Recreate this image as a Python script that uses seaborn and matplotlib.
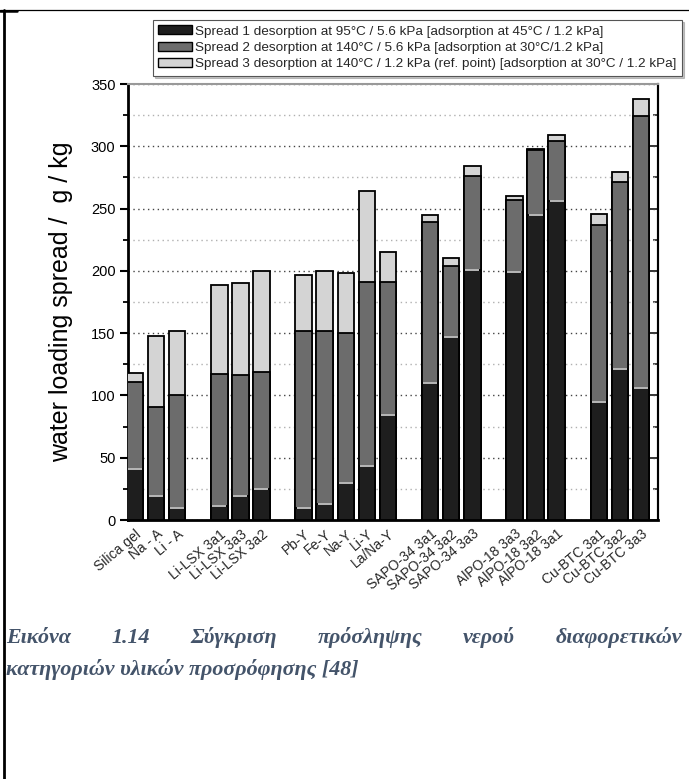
import matplotlib
matplotlib.use("Agg")
import numpy as np
import pandas as pd
import seaborn as sns
import matplotlib.pyplot as plt
from matplotlib.patches import Patch
from matplotlib.lines import Line2D
from matplotlib.ticker import MultipleLocator

# ---------------- data ----------------
categories = ["Silica gel", "Na - A", "Li - A",
              "Li-LSX 3a1", "Li-LSX 3a3", "Li-LSX 3a2",
              "Pb-Y", "Fe-Y", "Na-Y", "Li-Y", "La/Na-Y",
              "SAPO-34 3a1", "SAPO-34 3a2", "SAPO-34 3a3",
              "AlPO-18 3a3", "AlPO-18 3a2", "AlPO-18 3a1",
              "Cu-BTC 3a1", "Cu-BTC 3a2", "Cu-BTC 3a3"]
group_sizes = [3, 3, 5, 3, 3, 3]
spread1 = [41, 19, 10, 11, 19, 25, 10, 13, 30, 43, 84,
           110, 147, 201, 199, 245, 256, 95, 121, 106]
spread2 = [111, 91, 100, 117, 116, 119, 152, 152, 150, 191, 191,
           239, 204, 276, 257, 297, 304, 237, 271, 324]
spread3 = [118, 148, 152, 189, 190, 200, 197, 200, 198, 264, 215,
           245, 210, 284, 260, 298, 309, 246, 279, 338]
legend_labels = [
    "Spread 1 desorption at 95°C / 5.6 kPa [adsorption at 45°C / 1.2 kPa]",
    "Spread 2 desorption at 140°C / 5.6 kPa [adsorption at 30°C/1.2 kPa]",
    "Spread 3 desorption at 140°C / 1.2 kPa (ref. point) [adsorption at 30°C / 1.2 kPa]",
]
y_ticks = [0, 50, 100, 150, 200, 250, 300, 350]
y_label = "water loading spread /  g / kg"
caption_line1 = "Εικόνα 1.14 Σύγκριση πρόσληψης νερού διαφορετικών"
caption_line2 = "κατηγοριών υλικών προσρόφησης [48]"

# ---------------- style ----------------
sns.set_theme(style="white")
plt.rcParams["font.family"] = ["Liberation Sans", "DejaVu Sans"]

W, H = 689, 779
fig = plt.figure(figsize=(W / 100, H / 100), dpi=100)
fig.patch.set_facecolor("white")
ax = fig.add_axes([128 / W, 1 - 520 / H, 530 / W, 436 / H])

# bar positions: one empty slot between groups
positions = []
p = 0
for g in group_sizes:
    positions.extend(range(p, p + g))
    p += g + 1
positions = np.array(positions)

dark, mid, light = "#1e1e1e", "#6c6c6c", "#d4d4d4"
bar_w = 0.78
for vals, col in [(spread3, light), (spread2, mid), (spread1, dark)]:
    sns.barplot(x=positions, y=vals, native_scale=True, width=bar_w,
                color=col, saturation=1, edgecolor="black", linewidth=1.3,
                errorbar=None, ax=ax, zorder=3)

# light separator at the boundary between spread 1 and spread 2 segments
ax.hlines(spread1, positions - bar_w / 2 * 0.85, positions + bar_w / 2 * 0.85,
          colors="#c8c8c8", lw=1.3, zorder=4)

ax.set_xlim(-0.332, 24.81)
ax.set_ylim(0, 350)

# grid
ax.set_yticks(y_ticks)
ax.yaxis.set_minor_locator(MultipleLocator(25))
ax.yaxis.grid(True, which="major", linestyle=(0, (1, 2.5)), color="#444444", lw=1.0, zorder=0)
ax.yaxis.grid(True, which="minor", linestyle=(0, (1, 2.5)), color="#b0b0b0", lw=1.0, zorder=0)
ax.xaxis.grid(False)
ax.set_axisbelow(True)

# ticks
ax.set_xticks(positions)
ax.set_xticklabels(categories, rotation=40, ha="right", rotation_mode="anchor", fontsize=10)
ax.tick_params(axis="x", length=0, pad=5)
ax.tick_params(axis="y", which="major", direction="out", length=6, width=1.5,
               labelsize=10.5, pad=3, left=True, right=False, colors="black")
ax.tick_params(axis="y", which="minor", direction="out", length=3.5, width=1.3,
               left=True, right=False, colors="black")
ax.set_xlabel("")

sec = ax.secondary_yaxis("right")
sec.set_yticks(y_ticks)
sec.yaxis.set_minor_locator(MultipleLocator(25))
sec.tick_params(which="major", direction="in", length=6, width=1.3, labelright=False)
sec.tick_params(which="minor", direction="in", length=3.5, width=1.2, labelright=False)
sec.spines["right"].set_linewidth(1.5)
sec.spines["right"].set_color("black")

for side, lw, c in [("left", 2.0, "black"), ("bottom", 2.0, "black"),
                    ("right", 1.5, "black"), ("top", 1.5, "#999999")]:
    ax.spines[side].set_visible(True)
    ax.spines[side].set_linewidth(lw)
    ax.spines[side].set_color(c)

ax.set_ylabel(y_label, fontsize=18, color="black")
ax.yaxis.set_label_coords((61 - 128) / 530, 0.5)
ax.yaxis.label.set_verticalalignment("center")

# legend
handles = [Patch(facecolor=c, edgecolor="black", linewidth=1.0) for c in (dark, mid, light)]
leg = fig.legend(handles, legend_labels, loc="upper left",
                 bbox_to_anchor=(153 / W, 1 - 20 / H), bbox_transform=fig.transFigure,
                 fontsize=9.7, frameon=True, fancybox=False, edgecolor="#555555",
                 borderpad=0.4, labelspacing=0.3, handlelength=2.5, handleheight=0.65,
                 handletextpad=0.25, borderaxespad=0,
                 shadow={"ox": 1.5, "oy": -1.5, "color": "#8a8a8a"})
leg.get_frame().set_linewidth(0.8)

# caption (justified first line)
cap_kw = dict(family=["Liberation Serif", "DejaVu Serif"], weight="bold", style="italic",
              size=15.8, color="#44546A")
fig.canvas.draw()
renderer = fig.canvas.get_renderer()
words = caption_line1.split()
left_px, right_px = 6, 682
y1 = 1 - 643 / H
texts = [fig.text(0, y1, w, ha="left", va="baseline", **cap_kw) for w in words]
widths = [t.get_window_extent(renderer).width for t in texts]
gap = (right_px - left_px - sum(widths)) / (len(words) - 1)
x = left_px
for t, w in zip(texts, widths):
    t.set_x(x / W)
    x += w + gap
fig.text(left_px / W, 1 - 675 / H, caption_line2, ha="left", va="baseline", **cap_kw)

# page frame lines
fig.add_artist(Line2D([0, 1], [1 - 9.5 / H] * 2, transform=fig.transFigure, color="black", lw=0.9))
fig.add_artist(Line2D([4 / W] * 2, [0, 1 - 9.5 / H], transform=fig.transFigure, color="black", lw=2.0))
fig.add_artist(Line2D([0, 17 / W], [1 - 10.5 / H] * 2, transform=fig.transFigure, color="black", lw=1.8))

fig.savefig("out.png", dpi=100, facecolor="white")
